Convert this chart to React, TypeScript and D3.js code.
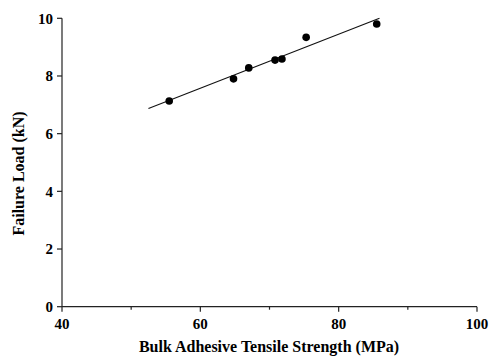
import React from "react";
import * as d3 from "d3";

const strength = [55.5, 64.8, 67.0, 70.8, 71.8, 75.3, 85.5];
const failureLoad = [7.13, 7.9, 8.28, 8.55, 8.59, 9.34, 9.8];
const fitX = [52.5, 85.9];
const fitY = [6.87, 10.0];
const xMajorTicks = [40, 60, 80, 100];
const xMinorTicks = [50, 70, 90];
const yTicks = [0, 2, 4, 6, 8, 10];

const W = 491;
const H = 358;
const left = 62;
const right = 477;
const top = 18.3;
const bottom = 306.7;

export default function App() {
  const x = d3.scaleLinear().domain([40, 100]).range([left, right]);
  const y = d3.scaleLinear().domain([0, 10]).range([bottom, top]);
  const line = d3
    .line<number>()
    .x((d) => x(d))
    .y((_, i) => y(fitY[i]));
  const font = "'Liberation Serif', 'Times New Roman', serif";
  return (
    <svg
      width={W}
      height={H}
      style={{ position: "absolute", left: 0, top: 0, background: "#fff" }}
      fontFamily={font}
      fontWeight="bold"
    >
      <line x1={left} x2={left} y1={top} y2={bottom} stroke="#222" strokeWidth={1.2} />
      <line x1={left} x2={right} y1={bottom} y2={bottom} stroke="#222" strokeWidth={1.2} />
      {yTicks.map((t) => (
        <g key={"y" + t}>
          <line x1={left - 5} x2={left} y1={y(t)} y2={y(t)} stroke="#222" strokeWidth={1.2} />
          <text x={left - 9} y={y(t)} dy="0.35em" textAnchor="end" fontSize={15}>
            {t}
          </text>
        </g>
      ))}
      {xMajorTicks.map((t) => (
        <g key={"x" + t}>
          <line x1={x(t)} x2={x(t)} y1={bottom} y2={bottom + 5} stroke="#222" strokeWidth={1.2} />
          <text x={x(t)} y={bottom + 22.5} textAnchor="middle" fontSize={15}>
            {t}
          </text>
        </g>
      ))}
      {xMinorTicks.map((t) => (
        <line key={"m" + t} x1={x(t)} x2={x(t)} y1={bottom} y2={bottom + 3} stroke="#222" strokeWidth={1.2} />
      ))}
      <path d={line(fitX) || ""} fill="none" stroke="#111" strokeWidth={1.1} />
      {strength.map((s, i) => (
        <circle key={i} cx={x(s)} cy={y(failureLoad[i])} r={3.8} fill="#000" />
      ))}
      <text x={269} y={352} textAnchor="middle" fontSize={16}>
        Bulk Adhesive Tensile Strength (MPa)
      </text>
      <text
        transform={`translate(24, 173.5) rotate(-90)`}
        textAnchor="middle"
        fontSize={16}
      >
        Failure Load (kN)
      </text>
    </svg>
  );
}
